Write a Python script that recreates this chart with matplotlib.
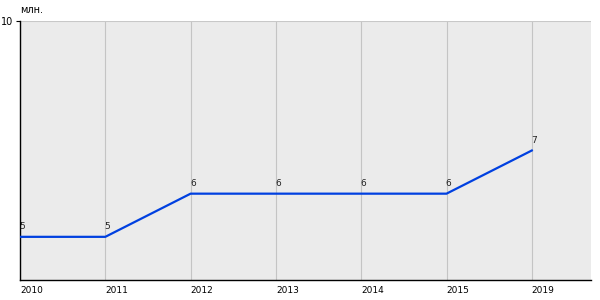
import matplotlib
matplotlib.use('Agg')
import matplotlib.pyplot as plt

# данные
years = ['2010', '2011', '2012', '2013', '2014', '2015', '2019']
values = [5, 5, 6, 6, 6, 6, 7]
unit = 'млн.'

fig = plt.figure(figsize=(6, 3), dpi=100)
ax = fig.add_axes([20 / 600, 20 / 300, 571 / 600, 259 / 300])
ax.set_facecolor('#ebebeb')

x = list(range(len(years)))
ax.plot(x, values, color='#0040e0', lw=1.6, zorder=3)
for xi, v in zip(x, values):
    ax.annotate(str(v), (xi, v), xytext=(-0.5, 4), textcoords='offset points',
                ha='left', va='bottom', fontsize=6.5, color='#222222')

ax.set_xlim(0, 571 / 85.3)
ax.set_ylim(4, 10)

ax.set_xticks(x)
ax.set_xticklabels(years, ha='left', fontsize=6.5)
for lbl in ax.get_xticklabels():
    lbl.set_x(lbl.get_position()[0])
ax.tick_params(axis='x', length=0, pad=4)
ax.set_yticks([10])
ax.set_yticklabels(['10'], fontsize=7)
ax.tick_params(axis='y', length=3, pad=2, width=0.8)

ax.grid(axis='x', color='#c4c4c4', lw=0.8)
ax.axhline(10, color='#c8c8c8', lw=1.5, zorder=2)
for s in ['top', 'right']:
    ax.spines[s].set_visible(False)
ax.spines['left'].set_linewidth(1)
ax.spines['bottom'].set_linewidth(1)

fig.text(20 / 600, 1 - 10 / 300, unit, fontsize=7, ha='left', va='center')

fig.savefig('out.png', dpi=100)
